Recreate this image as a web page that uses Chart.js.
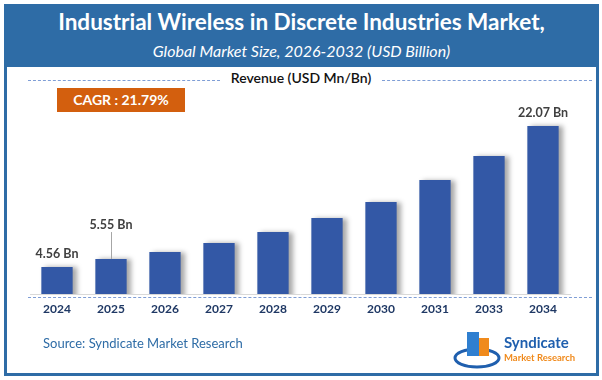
<!DOCTYPE html>
<html>
<head>
<meta charset="utf-8">
<script src="https://cdn.jsdelivr.net/npm/chart.js@4.4.1/dist/chart.umd.min.js"></script>
<style>
  body { margin: 0; background: #fff; }
  #wrap { position: relative; width: 602px; height: 380px; overflow: hidden; font-family: Lato, "Open Sans", sans-serif; }
  #frame { position: absolute; left: 4px; top: 4px; width: 595px; height: 372px; box-sizing: border-box; border: 3px solid #2e6ca6; }
  #header { position: absolute; left: 4px; top: 4px; width: 595px; height: 63px; background: #2e6ca6; color: #fff; text-align: center; }
  #title { position: absolute; left: 0; right: 0; top: 4px; font-weight: bold; font-size: 22.5px; }
  #subtitle { position: absolute; left: 0; right: 0; top: 37px; font-style: italic; font-size: 16px; }
  #revenue { position: absolute; left: 0; width: 602px; top: 69px; text-align: center; font-size: 14px; font-weight: 600; color: #111; }
  .dash { position: absolute; height: 0; border-top: 1px dashed #7f9ed6; }
  #cagr { position: absolute; left: 57px; top: 88px; width: 128px; height: 24px; background: #d35f0e; color: #fff; font-weight: bold; font-size: 14px; text-align: center; line-height: 24px; }
  #source { position: absolute; left: 43px; top: 335px; font-size: 13px; color: #2e6ca6; }
  #logo { position: absolute; left: 453px; top: 328px; width: 130px; height: 44px; }
  canvas { position: absolute; left: 0; top: 0; }
</style>
</head>
<body>
<div id="wrap">
  <div id="frame"></div>
  <div id="header">
    <div id="title">Industrial Wireless in Discrete Industries Market,</div>
    <div id="subtitle">Global Market Size, 2026-2032 (USD Billion)</div>
  </div>
  <div id="revenue">Revenue (USD Mn/Bn)</div>
  <div class="dash" style="left:28px; top:80px; width:192px;"></div>
  <div class="dash" style="left:382px; top:80px; width:210px;"></div>
  <div class="dash" style="left:28px; top:297px; width:564px;"></div>
  <div id="cagr">CAGR : 21.79%</div>
  <canvas id="myChart" width="602" height="380"></canvas>
  <div id="source">Source: Syndicate Market Research</div>
  <svg id="logo" viewBox="0 0 130 44">
    <ellipse cx="24" cy="30" rx="22" ry="9" fill="none" stroke="#1f5fae" stroke-width="3"/>
    <rect x="14" y="4" width="12" height="24" fill="#2f7fd0"/>
    <rect x="26" y="10" width="10" height="18" fill="#f08a1c"/>
    <text x="51" y="20" font-family="Lato, sans-serif" font-weight="bold" font-size="15" fill="#1f5fae">Syndicate</text>
    <text x="51" y="33" font-family="Lato, sans-serif" font-weight="bold" font-size="9.5" fill="#f08a1c">Market Research</text>
  </svg>
</div>

<script>
// categories and values (USD Bn)
var years = ['2024', '2025', '2026', '2027', '2028', '2029', '2030', '2031', '2033', '2034']
var revenue = [4.56, 5.55, 6.43, 7.54, 8.91, 10.65, 12.64, 15.37, 18.35, 22.07]
// text shown above bars, empty = no label
var barLabels = ['4.56 Bn', '5.55 Bn', '', '', '', '', '', '', '', '22.07 Bn']

//柱子阴影
var shadowPlugin = {
    id: 'barShadow',
    beforeDatasetsDraw(chart) {
        let c = chart.ctx
        c.save()
        c.shadowColor = 'rgba(0,0,0,0.35)'
        c.shadowBlur = 5
        c.shadowOffsetX = 4
        c.shadowOffsetY = 0
    },
    afterDatasetsDraw(chart) {
        chart.ctx.restore()
    }
}

//柱顶标签
var labelPlugin = {
    id: 'barLabels',
    afterDraw(chart) {
        let c = chart.ctx
        let bars = chart.getDatasetMeta(0).data
        c.save()
        c.font = 'bold 12.5px Lato, sans-serif'
        c.fillStyle = '#404040'
        c.textAlign = 'center'
        c.textBaseline = 'middle'
        bars.forEach((bar, i) => {
            if (!barLabels[i]) return
            let lift = 13
            if (i == 1) {
                // leader line for 2025
                lift = 34
                c.strokeStyle = '#a6a6a6'
                c.lineWidth = 1
                c.beginPath()
                c.moveTo(Math.round(bar.x) + 0.5, bar.y - lift + 7)
                c.lineTo(Math.round(bar.x) + 0.5, bar.y)
                c.stroke()
            }
            c.fillText(barLabels[i], bar.x, bar.y - lift)
        })
        c.restore()
    }
}

var ctx = document.getElementById('myChart').getContext('2d')
var myChart = new Chart(ctx, {
    type: 'bar',
    data: {
        labels: years,
        datasets: [{
            data: revenue,
            backgroundColor: '#3358a6',
            categoryPercentage: 1,
            barPercentage: 0.58
        }]
    },
    options: {
        responsive: false,
        animation: false,
        devicePixelRatio: 1,
        layout: { padding: { left: 30, right: 32, top: 100, bottom: 66 } },
        plugins: { legend: { display: false }, tooltip: { enabled: false } },
        scales: {
            y: { display: false, min: 1.21, max: 25.3 },
            x: {
                grid: { display: false, drawTicks: false },
                border: { display: true, color: '#d9d9d9', width: 1 },
                ticks: { color: '#1f3864', padding: 8, font: { family: 'Lato', weight: 'bold', size: 12 } },
                afterFit: (s) => { s.height = 20 }
            }
        }
    },
    plugins: [shadowPlugin, labelPlugin]
})
</script>
</body>
</html>
